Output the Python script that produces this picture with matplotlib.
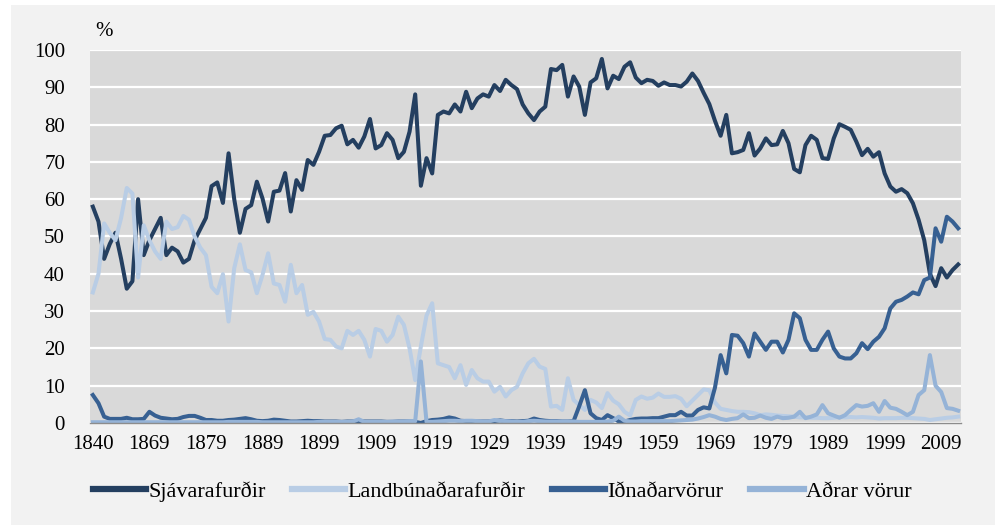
import matplotlib
matplotlib.use("Agg")
import matplotlib.pyplot as plt
from matplotlib.patches import Rectangle
import numpy as np

# category labels shown on the x axis (every 10th category)
tick_labels = ['1840', '1869', '1879', '1889', '1899', '1909', '1919', '1929',
               '1939', '1949', '1959', '1969', '1979', '1989', '1999', '2009']

series_names = ['Sjávarafurðir', 'Landbúnaðarafurðir', 'Iðnaðarvörur', 'Aðrar vörur']
colors = ['#243f60', '#b9cde5', '#376092', '#95b3d7']

sjavar = [
    58, 54, 44, 48, 51, 44, 36, 38, 60, 45,
    49, 52, 55, 45, 47, 46, 43, 44, 49, 52,
    55, 63.5, 64.5, 59, 72.3, 60, 51, 57.4, 58.4, 64.7,
    60.2, 54, 62, 62.3, 67, 56.7, 65.1, 62.5, 70.5, 69.2,
    72.7, 77, 77.2, 79, 79.7, 74.7, 75.9, 73.8, 76.8, 81.5,
    73.6, 74.5, 77.7, 75.9, 71, 72.7, 78.1, 88.1, 63.6, 71,
    66.9, 82.6, 83.5, 83, 85.4, 83.5, 88.8, 84.4, 87, 88.1,
    87.5, 90.6, 89, 92, 90.6, 89.5, 85.4, 83, 81.2, 83.5,
    84.8, 94.9, 94.6, 96, 87.5, 92.9, 90.2, 82.6, 91.3, 92.4,
    97.6, 89.7, 93.1, 92.2, 95.5, 96.7, 92.6, 91.1, 92, 91.7,
    90.4, 91.3, 90.6, 90.6, 90.2, 91.5, 93.7, 91.7, 88.5, 85.5,
    81, 77, 82.6, 72.3, 72.6, 73.2, 77.7, 71.7, 73.6, 76.3,
    74.5, 74.7, 78.3, 75, 68.1, 67.2, 74.5, 77, 75.9, 71,
    70.8, 76.3, 80.1, 79.4, 78.6, 75.4, 71.8, 73.5, 71.4, 72.6,
    66.9, 63.4, 62, 62.7, 61.6, 58.9, 54.5, 49, 40, 36.7,
    41.5, 39, 41, 42.5]

landbun = [
    35, 40, 53.5, 51, 49, 55, 63, 61.5, 39, 53,
    49, 46, 44, 54, 52, 52.5, 55.5, 54.5, 50, 47,
    45, 36.5, 34.8, 39.9, 27.2, 41.5, 47.9, 41, 40.4, 34.8,
    39.7, 45.5, 37.4, 37, 32.5, 42.4, 34.8, 37, 29, 29.8,
    27.2, 22.5, 22.3, 20.5, 20, 24.7, 23.6, 24.7, 22.3, 17.8,
    25.2, 24.7, 21.8, 23.6, 28.5, 26.3, 20, 11.5, 20.5, 28.8,
    32.1, 16, 15.5, 15, 12, 15.5, 10.2, 14.2, 12, 11.1,
    11.1, 8.4, 9.7, 7.1, 8.8, 9.7, 13.3, 16, 17.2, 15.1,
    14.5, 4.4, 4.6, 3.5, 12, 6.2, 4.8, 3.5, 6.2, 5.5,
    4, 8, 6, 5, 3, 2, 6.2, 7.1, 6.5, 6.8,
    7.9, 7, 7, 7.2, 6.5, 4.5, 6, 7.5, 9, 8.8,
    5.5, 3.8, 3.5, 3.2, 3, 3, 2.9, 2.6, 2.1, 2.3,
    2.2, 2, 1.9, 1.8, 1.7, 1.5, 1.5, 1.4, 1.4, 1.3,
    1.3, 1.4, 1.6, 1.5, 1.6, 1.5, 1.6, 1.5, 1.4, 1.2,
    1.3, 1.3, 1.3, 1.4, 1.4, 1.3, 1.2, 1.1, 0.8, 1.0,
    1.2, 1.4, 1.5, 1.7]

idnadar = [
    7.5, 5.3, 1.7, 1.1, 1.1, 1.1, 1.4, 1, 1, 1.1,
    3, 2, 1.4, 1.2, 1, 1.1, 1.6, 1.9, 1.9, 1.4,
    0.8, 0.8, 0.6, 0.6, 0.8, 0.9, 1.1, 1.3, 1, 0.6,
    0.5, 0.6, 0.9, 0.8, 0.6, 0.4, 0.4, 0.5, 0.6, 0.5,
    0.5, 0.4, 0.4, 0.4, 0.3, 0.4, 0.4, 0.5, 0.4, 0.4,
    0.4, 0.4, 0.3, 0.3, 0.4, 0.4, 0.4, 0.3, 0.0, 0.5,
    0.8, 0.9, 1.1, 1.5, 1.2, 0.6, 0.5, 0.5, 0.4, 0.4,
    0.4, 0.5, 0.7, 0.5, 0.5, 0.4, 0.5, 0.6, 1.2, 0.8,
    0.6, 0.5, 0.5, 0.4, 0.4, 0.5, 4.5, 8.8, 2.6, 1.3,
    0.8, 2.1, 1.3, 0.4, 0.4, 0.8, 1.1, 1.2, 1.2, 1.3,
    1.3, 1.7, 2.1, 2.1, 3, 2, 2, 3.5, 4.2, 3.9,
    9.5, 18.2, 13.3, 23.6, 23.4, 21.4, 17.8, 24, 21.8, 19.6,
    21.8, 21.8, 18.9, 22.3, 29.4, 28.1, 22.3, 19.6, 19.6, 22.3,
    24.5, 20, 17.8, 17.3, 17.3, 18.7, 21.4, 19.8, 21.8, 23.1,
    25.4, 30.7, 32.5, 33, 33.9, 35, 34.5, 38.3, 39, 52.2,
    48.6, 55.3, 54, 52.2]

adrar = [
    0.2, 0.2, 0.2, 0.2, 0.2, 0.2, 0.2, 0.2, 0.2, 0.2,
    0.2, 0.2, 0.2, 0.2, 0.2, 0.2, 0.2, 0.2, 0.2, 0.2,
    0.2, 0.2, 0.2, 0.2, 0.3, 0.3, 0.3, 0.3, 0.3, 0.3,
    0.2, 0.2, 0.2, 0.2, 0.2, 0.2, 0.2, 0.2, 0.2, 0.2,
    0.3, 0.3, 0.3, 0.3, 0.3, 0.3, 0.4, 1.0, 0.3, 0.3,
    0.3, 0.3, 0.3, 0.4, 0.4, 0.4, 0.5, 0.5, 16.5, 0.3,
    0.3, 0.4, 0.5, 0.6, 0.6, 0.5, 0.6, 0.6, 0.5, 0.4,
    0.4, 0.8, 0.6, 0.5, 0.4, 0.3, 0.3, 0.5, 0.6, 0.5,
    0.4, 0.4, 0.4, 0.4, 0.4, 0.4, 0.3, 0.3, 0.3, 0.3,
    0.3, 0.4, 0.6, 1.7, 0.6, 0.4, 0.4, 0.5, 0.5, 0.5,
    0.5, 0.5, 0.5, 0.6, 0.7, 0.8, 0.9, 1.2, 1.6, 2.1,
    1.7, 1.1, 0.8, 1.1, 1.3, 2.3, 1.3, 1.4, 2, 1.4,
    1.1, 1.7, 1.3, 1.4, 1.7, 3, 1.3, 1.7, 2.3, 4.8,
    2.6, 2, 1.4, 2.1, 3.5, 4.8, 4.4, 4.6, 5.3, 3,
    5.9, 4.1, 3.8, 3, 2.1, 3, 7.5, 8.8, 18.2, 10,
    8.3, 4, 3.8, 3.3]

plt.rcParams['font.family'] = ['Liberation Serif', 'DejaVu Serif']

fig = plt.figure(figsize=(10, 5.3), dpi=100)
fig.patch.set_facecolor('white')
fig.patches.append(Rectangle((0.011, 0.009), 0.984, 0.982, transform=fig.transFigure,
                             facecolor='#f2f2f2', edgecolor='none', zorder=-10))

ax = fig.add_axes([0.09, 0.2019, 0.871, 0.7038])
ax.set_facecolor('#d9d9d9')

x = np.arange(len(sjavar))
for vals, name, col in zip([sjavar, landbun, idnadar, adrar], series_names, colors):
    ax.plot(x, vals, color=col, lw=2.9, label=name, solid_joinstyle='round')

ax.set_xlim(-0.5, len(sjavar) - 0.5)
ax.set_ylim(0, 100)
ax.set_yticks(np.arange(0, 101, 10))
ax.set_xticks(np.arange(0, len(sjavar), 10))
ax.set_xticklabels(tick_labels)
ax.tick_params(axis='both', length=0, labelsize=15, colors='#000000')
ax.tick_params(axis='x', pad=9)
ax.tick_params(axis='y', pad=18)
ax.grid(axis='y', color='white', lw=1.6)
ax.set_axisbelow(True)
for s in ['top', 'right', 'left']:
    ax.spines[s].set_visible(False)
ax.spines['bottom'].set_color('#8c8c8c')
ax.spines['bottom'].set_linewidth(1.0)

fig.text(0.095, 0.941, '%', fontsize=15, va='center', ha='left')

leg = fig.legend(loc='center', bbox_to_anchor=(0.502, 0.073), ncol=4, frameon=False,
                 fontsize=16, handlelength=2.4, handletextpad=0.1, columnspacing=1.2)
for line in leg.get_lines():
    line.set_linewidth(4.5)

fig.savefig('out.png', dpi=100)
